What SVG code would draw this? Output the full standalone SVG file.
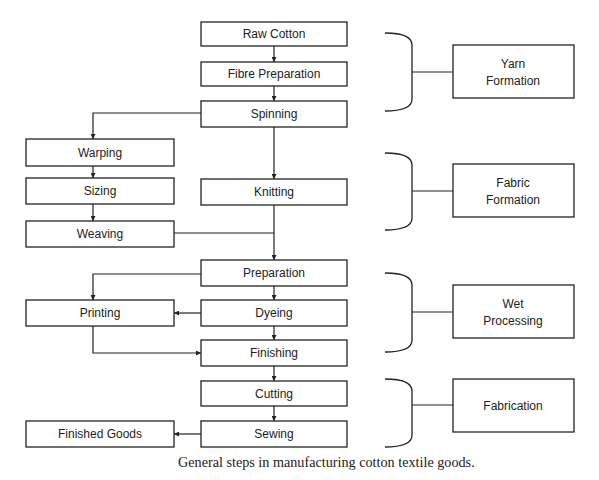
<svg xmlns="http://www.w3.org/2000/svg" width="599" height="480" viewBox="0 0 599 480">
<style>
.box{fill:#fff;stroke:#222;stroke-width:1.3}
.t{font-family:"Liberation Sans",Arial,sans-serif;font-size:12px;fill:#222;text-anchor:middle}
.c{fill:none;stroke:#222;stroke-width:1.2}
.br{fill:none;stroke:#222;stroke-width:1.3}
.cap{font-family:"Liberation Serif","Times New Roman",serif;font-size:14.2px;fill:#222}
</style>
<defs>
<marker id="a" viewBox="0 0 10 10" refX="10" refY="5" markerWidth="5" markerHeight="5" orient="auto" markerUnits="userSpaceOnUse">
<path d="M0,0L10,5L0,10z" fill="#222"/>
</marker>
</defs>
<rect width="599" height="480" fill="#fff"/>
<g id="connectors">
<path class="c" d="M274,46V62" marker-end="url(#a)"/>
<path class="c" d="M274,86V101" marker-end="url(#a)"/>
<path class="c" d="M201,113H93V139" marker-end="url(#a)"/>
<path class="c" d="M274,127V179" marker-end="url(#a)"/>
<path class="c" d="M93,166V178" marker-end="url(#a)"/>
<path class="c" d="M93,204V221" marker-end="url(#a)"/>
<path class="c" d="M174,233H274"/>
<path class="c" d="M274,205V260" marker-end="url(#a)"/>
<path class="c" d="M201,274H93V300" marker-end="url(#a)"/>
<path class="c" d="M274,286V300" marker-end="url(#a)"/>
<path class="c" d="M201,313H174" marker-end="url(#a)"/>
<path class="c" d="M274,326V340" marker-end="url(#a)"/>
<path class="c" d="M93,326V353H201" marker-end="url(#a)"/>
<path class="c" d="M274,366V381" marker-end="url(#a)"/>
<path class="c" d="M274,406V421" marker-end="url(#a)"/>
<path class="c" d="M201,434H174" marker-end="url(#a)"/>
<path class="c" d="M412,72H453"/>
<path class="c" d="M412,191H453"/>
<path class="c" d="M412,312H453"/>
<path class="c" d="M412,405H453"/>
</g>
<g id="braces">
<path class="br" d="M385,33Q412,33 412,45V99Q412,111 385,111"/>
<path class="br" d="M385,153Q412,153 412,165V218Q412,230 385,230"/>
<path class="br" d="M385,273Q412,273 412,285V340Q412,352 385,352"/>
<path class="br" d="M385,379Q412,379 412,391V435Q412,447 385,447"/>
</g>
<g id="raw-cotton"><rect class="box" x="201" y="22" width="146" height="24"/><text class="t" x="274" y="38">Raw Cotton</text></g>
<g id="fibre-preparation"><rect class="box" x="201" y="62" width="146" height="24"/><text class="t" x="274" y="78">Fibre Preparation</text></g>
<g id="spinning"><rect class="box" x="201" y="101" width="146" height="26"/><text class="t" x="274" y="118">Spinning</text></g>
<g id="warping"><rect class="box" x="26" y="139" width="148" height="27"/><text class="t" x="100" y="157">Warping</text></g>
<g id="sizing"><rect class="box" x="26" y="178" width="148" height="26"/><text class="t" x="100" y="195">Sizing</text></g>
<g id="weaving"><rect class="box" x="26" y="221" width="148" height="26"/><text class="t" x="100" y="238">Weaving</text></g>
<g id="knitting"><rect class="box" x="201" y="179" width="146" height="26"/><text class="t" x="274" y="196">Knitting</text></g>
<g id="preparation"><rect class="box" x="201" y="260" width="146" height="26"/><text class="t" x="274" y="277">Preparation</text></g>
<g id="printing"><rect class="box" x="26" y="300" width="148" height="26"/><text class="t" x="100" y="317">Printing</text></g>
<g id="dyeing"><rect class="box" x="201" y="300" width="146" height="26"/><text class="t" x="274" y="317">Dyeing</text></g>
<g id="finishing"><rect class="box" x="201" y="340" width="146" height="26"/><text class="t" x="274" y="357">Finishing</text></g>
<g id="cutting"><rect class="box" x="201" y="381" width="146" height="25"/><text class="t" x="274" y="398">Cutting</text></g>
<g id="sewing"><rect class="box" x="201" y="421" width="146" height="26"/><text class="t" x="274" y="438">Sewing</text></g>
<g id="finished-goods"><rect class="box" x="26" y="421" width="148" height="26"/><text class="t" x="100" y="438">Finished Goods</text></g>
<g id="yarn-formation"><rect class="box" x="453" y="45" width="121" height="53"/><text class="t" x="513" y="68">Yarn</text><text class="t" x="513" y="85">Formation</text></g>
<g id="fabric-formation"><rect class="box" x="453" y="164" width="121" height="53"/><text class="t" x="513" y="187">Fabric</text><text class="t" x="513" y="204">Formation</text></g>
<g id="wet-processing"><rect class="box" x="453" y="285" width="121" height="53"/><text class="t" x="513" y="308">Wet</text><text class="t" x="513" y="325">Processing</text></g>
<g id="fabrication"><rect class="box" x="453" y="379" width="121" height="53"/><text class="t" x="513" y="410">Fabrication</text></g>
<text class="cap" x="178" y="467">General steps in manufacturing cotton textile goods.</text>
</svg>
